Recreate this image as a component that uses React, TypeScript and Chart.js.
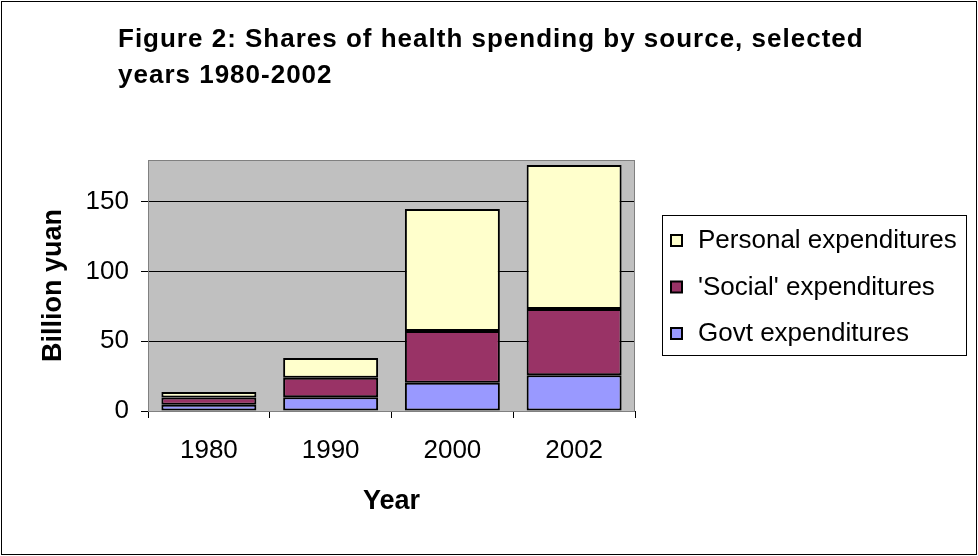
import React, { useEffect, useRef } from "react";
import { Chart, registerables } from "chart.js";

Chart.register(...registerables);

const years = ["1980", "1990", "2000", "2002"];
const govtValues = [4.4, 9.8, 20.3, 25.6];
const socialValues = [5.3, 14.1, 37.1, 47.6];
const personalValues = [3.9, 14.1, 87.5, 103.3];
const yTickValues = [0, 50, 100, 150];
const titleLines = ["Figure 2: Shares of health spending by source, selected", "years 1980-2002"];

const FONT = "'Liberation Sans', Arial, sans-serif";

const framePlugin = {
  id: "frame",
  beforeDraw(chart: any) {
    const { ctx, chartArea } = chart;
    ctx.save();
    ctx.fillStyle = "#ffffff";
    ctx.fillRect(0, 0, chart.width, chart.height);
    ctx.fillStyle = "#C0C0C0";
    ctx.fillRect(chartArea.left, chartArea.top, chartArea.right - chartArea.left, chartArea.bottom - chartArea.top);
    ctx.restore();
  },
  afterDraw(chart: any) {
    const { ctx, chartArea } = chart;
    ctx.save();
    ctx.strokeStyle = "#808080";
    ctx.lineWidth = 1;
    ctx.strokeRect(chartArea.left + 0.5, chartArea.top + 0.5, chartArea.right - chartArea.left - 1, chartArea.bottom - chartArea.top);
    ctx.strokeStyle = "#000000";
    ctx.strokeRect(1.5, 1.5, chart.width - 3, chart.height - 3);
    ctx.fillStyle = "#000";
    ctx.font = "bold 26px " + FONT;
    ctx.textBaseline = "middle";
    ctx.textAlign = "left";
    try { (ctx as any).letterSpacing = "1px"; } catch (e) {}
    ctx.fillText(titleLines[0], 118, 40);
    ctx.fillText(titleLines[1], 118, 76);
    try { (ctx as any).letterSpacing = "0px"; } catch (e) {}
    const lx = 662, ly = 215, lw = 304, lh = 140;
    ctx.strokeStyle = "#000";
    ctx.strokeRect(lx + 0.5, ly + 0.5, lw, lh);
    const ds = chart.data.datasets.slice().reverse();
    ctx.font = "26px " + FONT;
    ds.forEach((d: any, i: number) => {
      const cy = 240 + i * 46.5;
      ctx.fillStyle = d.backgroundColor;
      ctx.fillRect(671, cy - 5, 11, 11);
      ctx.strokeStyle = "#000";
      ctx.lineWidth = 2;
      ctx.strokeRect(671, cy - 5, 11, 11);
      ctx.fillStyle = "#000";
      ctx.fillText(d.label, 698, cy + 1);
    });
    ctx.restore();
  },
};

export default function App() {
  const ref = useRef<HTMLCanvasElement>(null);
  useEffect(() => {
    if (!ref.current) return;
    const common = { borderColor: "#000000", borderWidth: 2, barPercentage: 0.78, categoryPercentage: 1, borderSkipped: false };
    const chart = new Chart(ref.current, {
      type: "bar",
      data: {
        labels: years,
        datasets: [
          { label: "Govt expenditures", data: govtValues, backgroundColor: "#9999FF", ...common },
          { label: "'Social' expenditures", data: socialValues, backgroundColor: "#993366", ...common },
          { label: "Personal expenditures", data: personalValues, backgroundColor: "#FFFFCC", ...common },
        ],
      },
      options: {
        animation: false,
        responsive: false,
        maintainAspectRatio: false,
        layout: { padding: { left: 30, right: 343, top: 160, bottom: 30 } },
        plugins: { legend: { display: false }, title: { display: false }, tooltip: { enabled: false } },
        scales: {
          x: {
            stacked: true,
            afterFit: (s: any) => { s.height = 556 - 30 - 411; },
            grid: { offset: true, drawOnChartArea: false, color: "#000", tickLength: 7, tickColor: "#000" },
            border: { color: "#000", width: 1 },
            ticks: { color: "#000", font: { family: FONT, size: 26 }, padding: 17, maxRotation: 0 },
            title: { display: true, text: "Year", color: "#000", font: { family: FONT, size: 27, weight: "bold" }, padding: { top: 0, bottom: 8 } },
          },
          y: {
            stacked: true,
            min: 0,
            max: 180,
            afterFit: (s: any) => { s.width = 148 - 30; },
            afterBuildTicks: (s: any) => { s.ticks = yTickValues.map((v) => ({ value: v })); },
            grid: { color: "#000", tickLength: 7, tickColor: "#000", lineWidth: 1 },
            border: { color: "#000", width: 1 },
            ticks: { color: "#000", font: { family: FONT, size: 26 }, padding: 12 },
            title: { display: true, text: "Billion yuan", color: "#000", font: { family: FONT, size: 27, weight: "bold" }, padding: { top: 7, bottom: 0 } },
          },
        },
      },
      plugins: [framePlugin],
    });
    return () => chart.destroy();
  }, []);
  return (
    <div style={{ position: "fixed", left: 0, top: 0, width: 978, height: 556 }}>
      <canvas ref={ref} width={978} height={556} style={{ width: 978, height: 556, display: "block" }} />
    </div>
  );
}
